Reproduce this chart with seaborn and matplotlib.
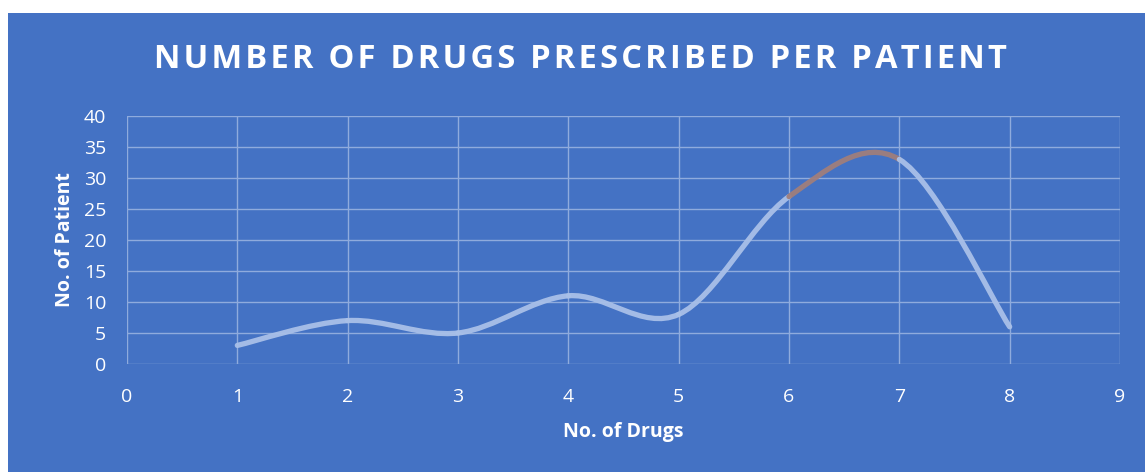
import numpy as np
import matplotlib.pyplot as plt
import seaborn as sns
from matplotlib.path import Path
from matplotlib.patches import PathPatch

# values
num_drugs = [1, 2, 3, 4, 5, 6, 7, 8]
num_patients = [3, 7, 5, 11, 8, 27, 33, 6]
highlight_segment = (6, 7)  # segment drawn in brown

bg = "#4472C4"
line_col = "#A9C0E8"
hi_col = "#A07E7C"
grid_col = "#8FABDD"

sns.set_theme(style="whitegrid")
plt.rcParams["font.family"] = ["Open Sans", "DejaVu Sans"]

fig = plt.figure(figsize=(11.45, 4.72), dpi=100)
fig.patch.set_facecolor("white")

# blue chart area with a thin white margin like the screenshot
bg_ax = fig.add_axes([8 / 1145, 0, 1 - 8 / 1145, 1 - 13 / 472], zorder=-1)
bg_ax.set_facecolor(bg)
bg_ax.set_xticks([])
bg_ax.set_yticks([])
bg_ax.grid(False)
for s in bg_ax.spines.values():
    s.set_visible(False)

ax = fig.add_axes([127 / 1145, 1 - 364 / 472, 993 / 1145, 248 / 472])
ax.set_facecolor(bg)
ax.set_xlim(0, 9)
ax.set_ylim(0, 40)
ax.set_xticks(range(0, 10))
ax.set_yticks(range(0, 45, 5))
ax.grid(True, color=grid_col, linewidth=1)
for s in ax.spines.values():
    s.set_visible(False)
ax.tick_params(colors="white", labelsize=14, length=0)
ax.tick_params(axis="x", pad=17)
ax.tick_params(axis="y", pad=15)
for lab in ax.get_xticklabels() + ax.get_yticklabels():
    lab.set_color("white")

ax.set_xlabel("No. of Drugs", color="white", fontsize=14, fontweight="bold", labelpad=12)
ax.set_ylabel("No. of Patient", color="white", fontsize=14, fontweight="bold", labelpad=6)

# smoothed line (Excel-style bezier between the data points)
x = np.array(num_drugs, dtype=float)
y = np.array(num_patients, dtype=float)
n = len(x)
for i in range(n - 1):
    p0 = np.array([x[max(i - 1, 0)], y[max(i - 1, 0)]])
    p1 = np.array([x[i], y[i]])
    p2 = np.array([x[i + 1], y[i + 1]])
    p3 = np.array([x[min(i + 2, n - 1)], y[min(i + 2, n - 1)]])
    c1 = p1 + (p2 - p0) / 6
    c2 = p2 - (p3 - p1) / 6
    path = Path([p1, c1, c2, p2], [Path.MOVETO, Path.CURVE4, Path.CURVE4, Path.CURVE4])
    col = hi_col if (x[i], x[i + 1]) == highlight_segment else line_col
    ax.add_patch(PathPatch(path, facecolor="none", edgecolor=col, lw=3.8,
                           capstyle="round", alpha=0.95, zorder=3))

title = "NUMBER OF DRUGS PRESCRIBED PER PATIENT"
fig.text(0.507, 1 - 59 / 472, "\u200a".join(title),
         ha="center", va="center", color="white", fontsize=23.5, fontweight="bold")

fig.savefig("out.png", dpi=100, facecolor=fig.get_facecolor())
